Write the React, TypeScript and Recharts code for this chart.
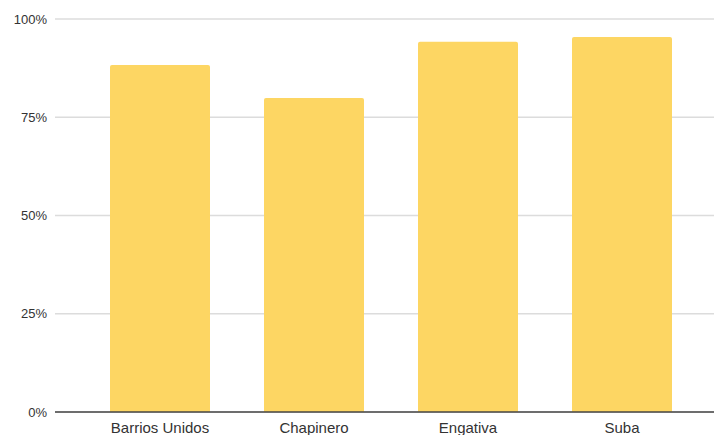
import { BarChart, Bar, XAxis, YAxis, CartesianGrid } from "recharts";

const localidades = ["Barrios Unidos", "Chapinero", "Engativa", "Suba"];
const cobertura = [0.883, 0.799, 0.942, 0.954];
const yTicks = [0, 0.25, 0.5, 0.75, 1];

const data = localidades.map((name, i) => ({ name, value: cobertura[i] }));

const pct = (v: number) => `${Math.round(v * 100)}%`;

export default function App() {
  return (
    <div style={{ position: "absolute", left: 0, top: 0, width: 714, height: 435, background: "#fff" }}>
      <BarChart
        width={714}
        height={435}
        data={data}
        margin={{ top: 19, right: 0, left: 0, bottom: 0 }}
        style={{ fontFamily: "'Liberation Sans', Arial, sans-serif" }}
      >
        <CartesianGrid vertical={false} stroke="#dcdcdc" strokeWidth={1.5} />
        <XAxis
          dataKey="name"
          height={23}
          tickLine={false}
          tickMargin={4}
          axisLine={{ stroke: "#444", strokeWidth: 1.5 }}
          padding={{ left: 28, right: 15 }}
          tick={{ fontSize: 15, fill: "#333" }}
          interval={0}
        />
        <YAxis
          width={55}
          domain={[0, 1]}
          ticks={yTicks}
          tickFormatter={pct}
          tickLine={false}
          axisLine={false}
          tick={{ fontSize: 13, fill: "#333" }}
        />
        <Bar dataKey="value" fill="#fdd663" barSize={100} radius={[2, 2, 0, 0]} isAnimationActive={false} />
      </BarChart>
    </div>
  );
}
